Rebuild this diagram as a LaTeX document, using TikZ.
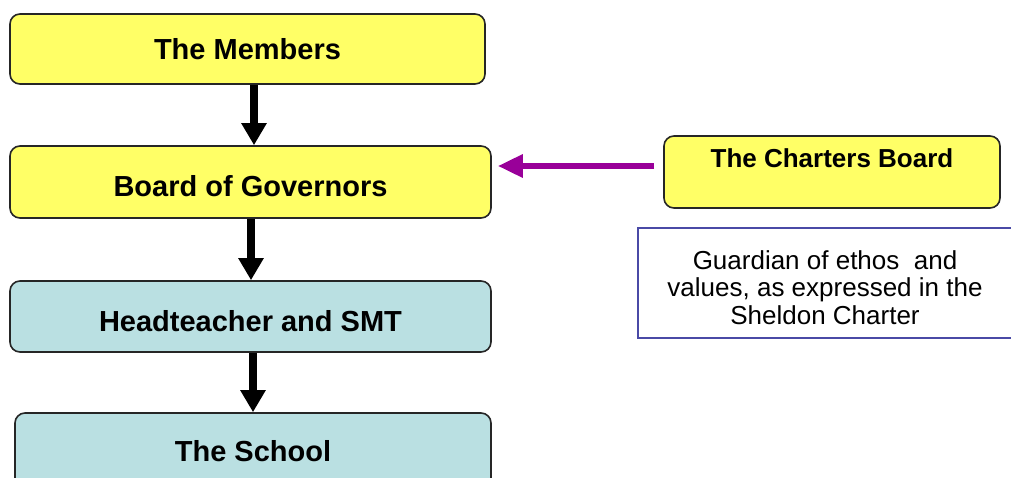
\documentclass[tikz,border=0pt]{standalone}
\usepackage{fontspec}
\setmainfont{Liberation Sans}
\usetikzlibrary{arrows.meta}
\definecolor{boxyellow}{HTML}{FFFF66}
\definecolor{boxteal}{HTML}{BAE0E2}
\definecolor{arrpurple}{HTML}{990099}
\definecolor{guardblue}{HTML}{4A4AA6}
\tikzset{
  orgbox/.style={draw=black!85, line width=1.6pt, rounded corners=10pt, inner sep=0pt,
    font=\fontsize{29}{34}\selectfont\bfseries, align=center, text height=21pt, text depth=0pt},
  ybox/.style={orgbox, fill=boxyellow},
  tbox/.style={orgbox, fill=boxteal},
  lowtext/.style={text height=29pt},
  bigarrow/.style={line width=8pt, -{Triangle[width=24pt,length=22pt]}},
  purplearrow/.style={draw=arrpurple, line width=6pt, -{Triangle[width=22pt,length=25pt]}}
}
\begin{document}
\begin{tikzpicture}[x=1pt,y=-1pt]
\useasboundingbox (0,0) rectangle (1011,477);
\node[ybox, minimum width=475pt, minimum height=70pt] (members) at (247.5,49) {The Members};
\node[ybox, lowtext, minimum width=481pt, minimum height=72pt] (board) at (250.5,182) {Board of Governors};
\node[tbox, lowtext, minimum width=481pt, minimum height=71pt] (head) at (250.5,316.5) {Headteacher and SMT};
\node[tbox, minimum width=476pt, minimum height=76pt] (school) at (253,451) {The School};
\node[ybox, minimum width=336pt, minimum height=72pt, font=\fontsize{26}{30}\selectfont\bfseries,
  text height=19pt, text depth=29pt] (charters) at (832,172) {The Charters Board};
\node[draw=guardblue, line width=1.3pt, fill=white, minimum width=374pt, minimum height=110pt,
  inner sep=0pt, align=center, font=\fontsize{26}{27.5}\selectfont] (guardian) at (825,283)
  {\rule{0pt}{28pt}Guardian of ethos\ \ and\\values, as expressed in the\\Sheldon Charter};
\coordinate (x1) at (254,0);
\coordinate (x2) at (251,0);
\coordinate (x3) at (253,0);
\coordinate (yp) at (0,166);
\draw[bigarrow] (members.south -| x1) -- (board.north -| x1);
\draw[bigarrow] (board.south -| x2) -- (head.north -| x2);
\draw[bigarrow] (head.south -| x3) -- (school.north -| x3);
\draw[purplearrow, shorten <=9pt, shorten >=6pt] (charters.west |- yp) -- (board.east |- yp);
\end{tikzpicture}
\end{document}
